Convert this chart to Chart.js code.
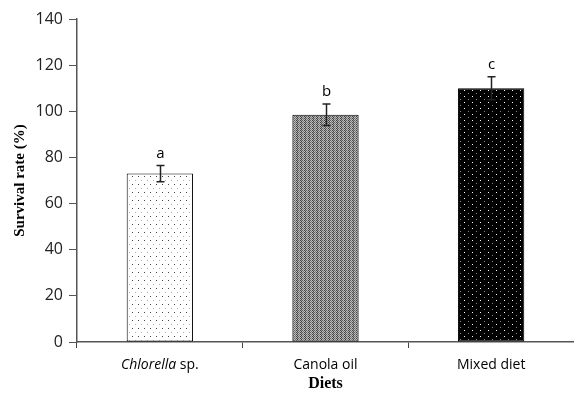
<!DOCTYPE html>
<html>
<head>
<meta charset="utf-8">
<script src="https://cdn.jsdelivr.net/npm/chart.js@4.4.0/dist/chart.umd.min.js"></script>
<style>
html, body { margin: 0; padding: 0; background: #fff; }
#wrap { width: 574px; height: 395px; }
</style>
</head>
<body>
<div id="wrap"><canvas id="survivalChart"></canvas></div>
<script>
// data
const diets = ['Chlorella sp.', 'Canola oil', 'Mixed diet'];
const survival = [73, 98.5, 110];
const survivalErr = [3.5, 4.7, 5];
const groupLetters = ['a', 'b', 'c'];
const yTicks = [0, 20, 40, 60, 80, 100, 120, 140];

// small pixel patterns like the excel fills
function makePattern(w, h, bg, dots) {
    const c = document.createElement('canvas');
    c.width = w; c.height = h;
    const g = c.getContext('2d');
    g.fillStyle = bg;
    g.fillRect(0, 0, w, h);
    dots.forEach(d => {
        g.fillStyle = d[2];
        g.fillRect(d[0], d[1], 1, 1);
    });
    return g.createPattern(c, 'repeat');
}

const dotted = makePattern(6, 8, '#ffffff', [[0, 0, '#444'], [3, 4, '#aaa']]);
const greyCheck = makePattern(4, 2, '#bcbcbc', [
    [0, 0, '#444'], [2, 0, '#666'], [1, 1, '#444'], [3, 1, '#777'], [1, 0, '#999']
]);
const blackDots = makePattern(8, 6, '#000000', [[0, 0, '#ffffff'], [4, 3, '#888']]);

// error bars + letters
const errorBars = {
    id: 'errorBars',
    afterDatasetsDraw(chart) {
        const ctx = chart.ctx;
        const y = chart.scales.y;
        const meta = chart.getDatasetMeta(0);
        ctx.save();
        ctx.strokeStyle = '#222';
        ctx.lineWidth = 1.5;
        meta.data.forEach((bar, i) => {
            const x = Math.round(bar.x) + 0.5;
            const top = y.getPixelForValue(survival[i] + survivalErr[i]);
            const bot = y.getPixelForValue(survival[i] - survivalErr[i]);
            ctx.beginPath();
            ctx.moveTo(x, top); ctx.lineTo(x, bot);
            ctx.moveTo(x - 4, top); ctx.lineTo(x + 4, top);
            ctx.moveTo(x - 4, bot); ctx.lineTo(x + 4, bot);
            ctx.stroke();
            ctx.fillStyle = '#000';
            ctx.font = '15px "Open Sans"';
            ctx.textAlign = 'center';
            ctx.textBaseline = 'alphabetic';
            ctx.fillText(groupLetters[i], x, top - 8);
        });
        ctx.restore();
    }
};

// category labels, first one partly italic
const dietLabels = {
    id: 'dietLabels',
    afterDraw(chart) {
        const ctx = chart.ctx;
        const xs = chart.scales.x;
        const ly = 365;
        ctx.save();
        ctx.fillStyle = '#000';
        ctx.textBaseline = 'middle';
        ctx.textAlign = 'left';
        diets.forEach((name, i) => {
            const cx = xs.getPixelForTick(i);
            let parts = [[name, '']];
            if (name.indexOf('Chlorella') === 0) {
                parts = [['Chlorella', 'italic '], [name.slice(9), '']];
            }
            let total = 0;
            parts.forEach(p => {
                ctx.font = p[1] + '14px "Open Sans"';
                total += ctx.measureText(p[0]).width;
            });
            let x = cx - total / 2;
            parts.forEach(p => {
                ctx.font = p[1] + '14px "Open Sans"';
                ctx.fillText(p[0], x, ly);
                x += ctx.measureText(p[0]).width;
            });
        });
        ctx.restore();
    }
};

new Chart(document.getElementById('survivalChart'), {
    type: 'bar',
    data: {
        labels: diets,
        datasets: [{
            data: survival,
            backgroundColor: [dotted, greyCheck, blackDots],
            borderColor: '#000',
            borderWidth: 1,
            borderSkipped: false,
            categoryPercentage: 1,
            barPercentage: 0.4
        }]
    },
    options: {
        responsive: true,
        maintainAspectRatio: false,
        animation: false,
        events: [],
        layout: { padding: { top: 19, right: 0, bottom: 0, left: 0 } },
        plugins: {
            legend: { display: false },
            tooltip: { enabled: false }
        },
        scales: {
            x: {
                grid: { drawOnChartArea: false, tickLength: 6, color: '#444' },
                border: { color: '#555', width: 1.5 },
                ticks: { color: 'rgba(0,0,0,0)', font: { family: 'Open Sans', size: 14 } },
                title: {
                    display: true, text: 'Diets', color: '#000',
                    font: { family: 'Liberation Serif', size: 16, weight: 'bold' },
                    padding: { top: 0, bottom: 2 }
                },
                afterFit(s) { s.height = 53; }
            },
            y: {
                min: yTicks[0],
                max: yTicks[yTicks.length - 1],
                grid: { drawOnChartArea: false, tickLength: 8, color: '#555' },
                border: { color: '#555', width: 1.5 },
                ticks: {
                    stepSize: yTicks[1] - yTicks[0],
                    padding: 6,
                    color: '#222',
                    font: { family: 'Open Sans', size: 16 }
                },
                title: {
                    display: true, text: 'Survival rate (%)', color: '#000',
                    font: { family: 'Liberation Serif', size: 15, weight: 'bold' },
                    padding: { top: 11, bottom: 0 }
                },
                afterFit(s) { s.width = 77; }
            }
        }
    },
    plugins: [errorBars, dietLabels]
});
</script>
</body>
</html>
